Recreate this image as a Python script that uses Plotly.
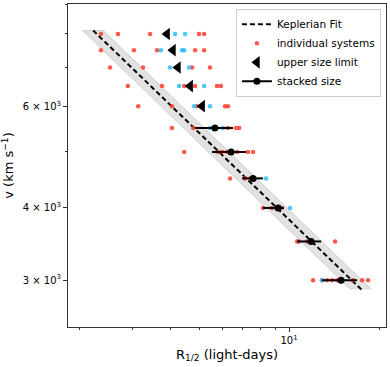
import plotly.graph_objects as go

# ---------------- data ----------------
# individual systems (red): velocity row and R_1/2 (light-days)
red_v = [8000]*5 + [7500]*5 + [7000]*4 + [6500]*6 + [6000]*5 + [5500]*5 + [5000]*7 + \
        [4500]*3 + [4000]*3 + [3500]*4 + [3000]*8
red_R = [2.35, 2.68, 3.43, 5.00, 5.20,
         2.35, 3.03, 3.62, 4.85, 5.20,
         2.52, 3.25, 4.74, 5.44,
         2.89, 3.76, 4.46, 4.85, 5.74, 5.92,
         3.13, 4.06, 4.92, 6.11, 6.25,
         4.06, 4.78, 6.25, 6.65, 6.81,
         4.46, 5.79, 5.97, 6.20, 6.70, 7.29, 7.58,
         6.35, 7.12, 7.41,
         8.18, 8.77, 9.45,
         10.64, 10.80, 11.49, 14.25,
         12.03, 12.89, 13.40, 13.93, 14.47, 16.37, 17.54, 18.37]

# individual systems (cyan)
cyan_v = [8000, 8000, 7500, 7500, 7500, 7000, 7000, 6500, 6500, 6000, 6000, 5500, 5500, 4500, 4000, 3000]
cyan_R = [4.16, 4.49, 3.73, 4.39, 4.46, 4.00, 4.63, 4.29, 5.20, 4.81, 5.44, 5.44, 6.02, 8.38, 10.08, 12.89]

# upper size limits
lim_v = [8000, 7500, 7000, 6500, 6000]
lim_R = [3.91, 4.09, 4.25, 4.67, 5.12]

# stacked sizes with asymmetric ranges
stk_v = [5500, 5000, 4500, 4000, 3500, 3000]
stk_R = [5.65, 6.40, 7.58, 9.19, 11.85, 14.92]
stk_lo = [4.85, 5.53, 6.96, 8.18, 10.64, 12.89]
stk_hi = [6.50, 7.18, 8.18, 9.62, 12.80, 16.88]

# Keplerian fit v = A * R^-1/2
fit_A = 12070.0
fit_A_err = 0.04
fit_vmin, fit_vmax = 2890.0, 8110.0

ytick_major = [3000, 4000, 6000]
ytick_text = ["3 × 10<sup>3</sup>", "4 × 10<sup>3</sup>", "6 × 10<sup>3</sup>"]
ytick_minor = [5000, 7000, 8000, 9000]
xtick_major = [10]
xtick_text = ["10<sup>1</sup>"]
xtick_minor = [2, 3, 4, 5, 6, 7, 8, 9, 20]

# ---------------- derived fit curves ----------------
n = 60
fit_v = [fit_vmin * (fit_vmax / fit_vmin) ** (i / (n - 1)) for i in range(n)]
fit_R = [(fit_A / v) ** 2 for v in fit_v]
band_lo = [((fit_A * (1 - fit_A_err)) / v) ** 2 for v in fit_v]
band_hi = [((fit_A * (1 + fit_A_err)) / v) ** 2 for v in fit_v]

fig = go.Figure()

# uncertainty band
fig.add_trace(go.Scatter(
    x=band_lo + band_hi[::-1], y=fit_v + fit_v[::-1],
    fill="toself", fillcolor="rgba(190,190,190,0.45)",
    line=dict(color="rgba(170,170,170,0.6)", width=0.8),
    mode="lines", showlegend=False, hoverinfo="skip"))

# fit line
fig.add_trace(go.Scatter(
    x=fit_R, y=fit_v, mode="lines", name="Keplerian Fit",
    line=dict(color="black", width=2, dash="5px,3px")))

# individual systems
fig.add_trace(go.Scatter(
    x=red_R, y=red_v, mode="markers", name="individual systems",
    marker=dict(color="rgba(255,60,45,0.85)", size=4.5, line=dict(width=0))))
fig.add_trace(go.Scatter(
    x=cyan_R, y=cyan_v, mode="markers", name="cyan", showlegend=False,
    marker=dict(color="rgba(40,190,255,0.85)", size=4.5, line=dict(width=0))))

# upper size limits
fig.add_trace(go.Scatter(
    x=lim_R, y=lim_v, mode="markers", name="upper size limit",
    marker=dict(color="black", symbol="triangle-left", size=11, line=dict(width=0))))

# stacked size (legend proxy)
fig.add_trace(go.Scatter(
    x=[None], y=[None], mode="lines+markers", name="stacked size",
    line=dict(color="black", width=2),
    marker=dict(color="black", size=7)))
fig.add_trace(go.Scatter(
    x=stk_R, y=stk_v, mode="markers", showlegend=False,
    marker=dict(color="black", size=7),
    error_x=dict(type="data", symmetric=False,
                 array=[h - r for h, r in zip(stk_hi, stk_R)],
                 arrayminus=[r - l for l, r in zip(stk_lo, stk_R)],
                 color="black", thickness=2, width=0)))

axis_common = dict(
    type="log", showgrid=False, zeroline=False, automargin=False,
    showline=True, linecolor="#333", linewidth=1, mirror=True,
    ticks="outside", ticklen=4, tickcolor="#333",
    tickfont=dict(family="DejaVu Sans", size=10, color="black"),
)

fig.update_layout(
    width=390, height=367,
    margin=dict(l=68, r=4, t=4, b=40),
    paper_bgcolor="white", plot_bgcolor="white",
    font=dict(family="DejaVu Sans", color="black"),
    xaxis=dict(**axis_common, range=[0.261, 1.324],
               tickmode="array", tickvals=xtick_major, ticktext=xtick_text,
               minor=dict(tickmode="array", tickvals=xtick_minor, ticks="outside",
                          ticklen=2, tickcolor="#333", showgrid=False),
               title=dict(text="R<sub>1/2</sub> (light-days)", font=dict(size=13), standoff=4)),
    yaxis=dict(**axis_common, range=[3.396, 3.955],
               tickmode="array", tickvals=ytick_major, ticktext=ytick_text,
               minor=dict(tickmode="array", tickvals=ytick_minor, ticks="outside",
                          ticklen=2, tickcolor="#333", showgrid=False),
               title=dict(text="v (km s<sup>−1</sup>)", font=dict(size=13), standoff=6)),
    legend=dict(x=0.984, y=0.985, xanchor="right", yanchor="top",
                bgcolor="white", bordercolor="#cccccc", borderwidth=1,
                font=dict(family="DejaVu Sans", size=10.5),
                tracegroupgap=0, itemwidth=30),
)

fig.write_html("out.html", config={"displayModeBar": False},
               post_script="document.body.style.margin='0px';document.body.style.padding='0px';")
